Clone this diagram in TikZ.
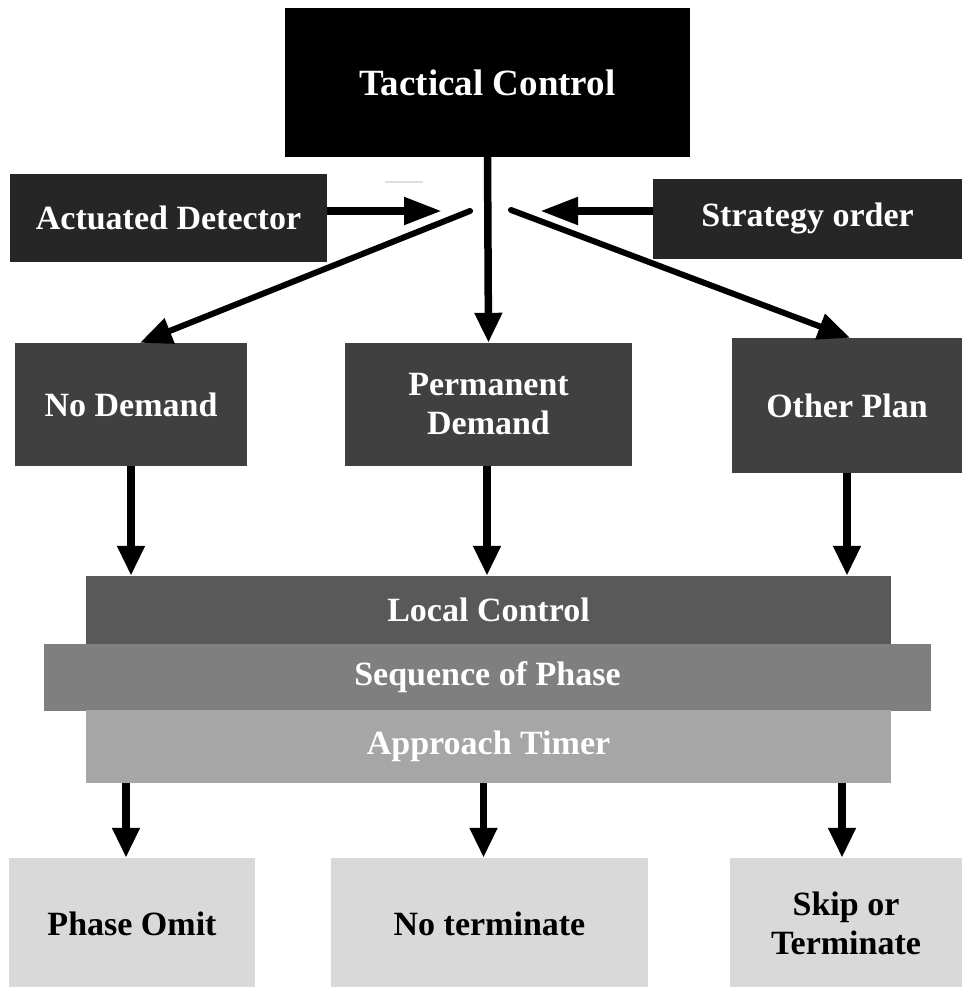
\documentclass[tikz,border=0pt]{standalone}
\usepackage{fontspec}
\setmainfont{Liberation Serif}
\usetikzlibrary{arrows.meta}
\definecolor{boxA}{HTML}{262626}
\definecolor{boxB}{HTML}{404040}
\definecolor{layerA}{HTML}{595959}
\definecolor{layerB}{HTML}{7F7F7F}
\definecolor{layerC}{HTML}{A6A6A6}
\definecolor{boxC}{HTML}{D9D9D9}
\tikzset{
  blk/.style={rectangle, inner sep=0pt, align=center, draw=none,
    font=\fontsize{34}{39}\selectfont\bfseries},
  arr/.style={line width=7.5pt, -{Triangle[length=30pt,width=26pt]}},
  darr/.style={line width=6pt, -{Triangle[length=32pt,width=26pt]}},
  harr/.style={line width=8pt, -{Triangle[length=38pt,width=26pt]}},
}
\begin{document}
\begin{tikzpicture}[x=1pt,y=-1pt]
\useasboundingbox[fill=white] (0,0) rectangle (962,987);

% top level
\node[blk, fill=black, text=white, minimum width=405pt, minimum height=149pt,
  font=\fontsize{37}{44}\selectfont\bfseries] (tc) at (487.5,82.5) {Tactical Control};
\node[blk, fill=boxA, text=white, minimum width=317pt, minimum height=88pt] (ad) at (168.5,218) {Actuated Detector};
\node[blk, fill=boxA, text=white, minimum width=309pt, minimum height=80pt] (so) at (807.5,219) {\strut Strategy order};

% plans
\node[blk, fill=boxB, text=white, minimum width=232pt, minimum height=123pt] (nd) at (131,404.5) {No Demand};
\node[blk, fill=boxB, text=white, minimum width=287pt, minimum height=123pt] (pd) at (488.5,404.5) {Permanent\\Demand};
\node[blk, fill=boxB, text=white, minimum width=230pt, minimum height=135pt] (op) at (847,405.5) {Other Plan};

% stacked local control layers
\node[blk, fill=layerA, text=white, minimum width=805pt, minimum height=68pt] (lc) at (488.5,610) {Local Control};
\node[blk, fill=layerB, text=white, minimum width=887pt, minimum height=67pt] (sp) at (487.5,677.5) {\strut Sequence of Phase};
\node[blk, fill=layerC, text=white, minimum width=805pt, minimum height=73pt] (at) at (488.5,746.5) {\strut Approach Timer};

% outcomes
\node[blk, fill=boxC, text=black, minimum width=246pt, minimum height=131pt] (po) at (132,923.5) {Phase Omit};
\node[blk, fill=boxC, text=black, minimum width=317pt, minimum height=131pt] (nt) at (489.5,923.5) {No terminate};
\node[blk, fill=boxC, text=black, minimum width=232pt, minimum height=131pt] (st) at (846,923.5) {Skip or\\Terminate};

% junction points below the tactical box
\coordinate (hubL) at (442,211);
\coordinate (hubR) at (540,211);
\coordinate (fanL) at (470,211);
\coordinate (fanR) at (511,210);

\draw[gray!25, line width=1.5pt] (385,182) -- (423,182);

% inputs to the junction
\draw[harr] (ad.east |- hubL) -- (hubL);
\draw[harr] (so.west |- hubR) -- (hubR);

% tactical control to plans
\draw[arr] (tc.south) -- (pd.north);
\draw[darr, line cap=round] (fanL) -- ([xshift=9pt]nd.north);
\draw[darr, line cap=round] (fanR) -- ([xshift=3pt]op.north);

% plans to local control
\draw[arr] (nd.south) -- (nd.south |- lc.north);
\draw[arr] ([xshift=-1.5pt]pd.south) -- ([xshift=-1.5pt]pd.south |- lc.north);
\draw[arr] (op.south) -- (op.south |- lc.north);

% approach timer to outcomes
\draw[arr] ([xshift=-6pt]po.north |- at.south) -- ([xshift=-6pt]po.north);
\draw[arr] ([xshift=-6pt]nt.north |- at.south) -- ([xshift=-6pt]nt.north);
\draw[arr] ([xshift=-4pt]st.north |- at.south) -- ([xshift=-4pt]st.north);
\end{tikzpicture}
\end{document}
